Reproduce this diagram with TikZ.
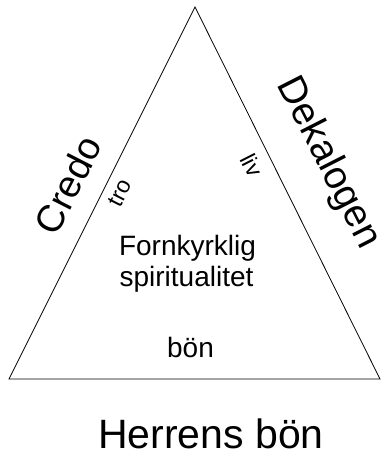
\documentclass[tikz,border=0pt]{standalone}
\usepackage{fontspec}
\setmainfont{Liberation Sans}
\begin{document}
\begin{tikzpicture}[x=1pt,y=1pt,
  side/.style={line width=0.8pt, line join=miter},
  big/.style={font=\fontsize{38}{40}\selectfont, inner sep=0pt},
  small/.style={font=\fontsize{23}{25}\selectfont, inner sep=0pt},
  mid/.style={font=\fontsize{28}{34}\selectfont, inner sep=0pt, align=center}]
\useasboundingbox (0,0) rectangle (381,452);
\coordinate (apex) at (195,445);
\coordinate (bl) at (9,73);
\coordinate (br) at (380,73);
\draw[side] (apex) -- (bl) -- (br) -- cycle;
\node[big, rotate=63] (credo) at (68,267) {Credo};
\node[big, rotate=-63, font=\fontsize{39}{41}\selectfont] (dek) at (328,289) {Dekalogen};
\node[small, rotate=63] (tro) at (120,259) {tro};
\node[small, rotate=-63] (liv) at (252,287) {liv};
\node[mid, anchor=base] (f1) at (187.5,196) {Fornkyrklig};
\node[mid, anchor=base] (f2) at (186.5,165) {spiritualitet};
\node[mid, anchor=base] (bon) at (190.5,94) {bön};
\node[font=\fontsize{41}{44}\selectfont, inner sep=0pt, anchor=base] (hb) at (211,3) {Herrens bön};
\end{tikzpicture}
\end{document}
